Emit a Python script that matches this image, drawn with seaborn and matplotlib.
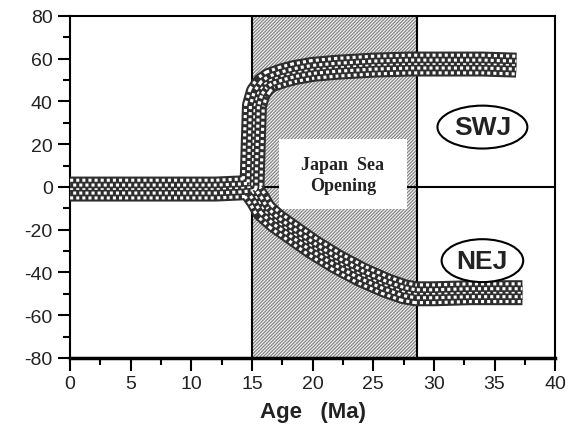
import matplotlib
matplotlib.use("Agg")
import matplotlib.pyplot as plt
import seaborn as sns
import pandas as pd
from matplotlib.ticker import MultipleLocator
from matplotlib.patches import Rectangle

# ---- data ----
swj_age = [0, 2, 4, 6, 8, 10, 12, 14, 15.0, 15.1, 15.2, 15.5, 16.0, 16.5, 17.5, 18.5, 20, 22, 25, 28, 31, 34, 36.8]
swj_dec = [-1, -1, -1, -1, -1, -1, -1, -0.5, 0, 20, 38, 44, 48, 50, 52, 53.5, 55, 56, 57, 57.5, 57.5, 57.5, 57]

nej_age = [15.0, 15.5, 16, 17, 18, 20, 22, 24, 26, 27.5, 28.5, 30, 33, 37.3]
nej_dec = [-2, -6, -11, -16, -20, -28, -35, -41, -46, -49, -50, -50, -49.5, -49.5]

opening_start, opening_end = 15.0, 28.6
x_ticks = [0, 5, 10, 15, 20, 25, 30, 35, 40]
y_ticks = [-80, -60, -40, -20, 0, 20, 40, 60, 80]

swj = pd.DataFrame({"Age": swj_age, "Dec": swj_dec})
nej = pd.DataFrame({"Age": nej_age, "Dec": nej_dec})

sns.set_theme(style="white")
plt.rcParams['font.family'] = ['Liberation Sans', 'DejaVu Sans']
plt.rcParams['axes.unicode_minus'] = False
plt.rcParams['lines.scale_dashes'] = False
plt.rcParams['hatch.linewidth'] = 0.9

fig = plt.figure(figsize=(5.7, 4.35), dpi=100)
ax = fig.add_axes([0.123, 0.175, 0.851, 0.786])

# opening period shading
ax.axvspan(opening_start, opening_end, facecolor="#f6f6f6", edgecolor="#858585",
           hatch="//////////", linewidth=0, zorder=0)
for xv in (opening_start, opening_end):
    ax.axvline(xv, color="black", lw=1.5, zorder=1)
ax.axhline(0, color="black", lw=1.5, zorder=1)

# white label box inside the shaded interval
ax.add_patch(Rectangle((17.2, -10.5), 10.6, 33, facecolor="white", edgecolor="none", zorder=2))

# curves as thick checkered bands
dark = "#2e2e2e"
layers = [
    (dark, 18, "-"),
    ("white", 15, (0, (2.2, 2.2))),
    (dark, 10.5, "-"),
    ("white", 8, (2.2, (2.2, 2.2))),
    (dark, 3.5, "-"),
    ("white", 1.2, (0, (2.2, 2.2))),
]
for df in (swj, nej):
    for i, (c, w, ls) in enumerate(layers):
        sns.lineplot(data=df, x="Age", y="Dec", ax=ax, sort=False, estimator=None,
                     color=c, lw=w, linestyle=ls, solid_capstyle="butt",
                     dash_capstyle="butt", zorder=3 + i * 0.1)

ax.text(22.5, 5.5, "Japan  Sea\nOpening", ha="center", va="center",
        family=["Liberation Serif", "DejaVu Serif"], fontweight="bold", fontsize=13,
        linespacing=1.35, color="#222222", zorder=6)

for label, yy in (("SWJ", 28), ("NEJ", -34.5)):
    ax.text(34.0, yy, label, ha="center", va="center", fontsize=19, fontweight="bold",
            color="#222222",
            bbox=dict(boxstyle="ellipse,pad=0.12", facecolor="white",
                      edgecolor="black", lw=1.5), zorder=6)

ax.set_xlim(0, 40)
ax.set_ylim(-80, 80)
ax.set_xticks(x_ticks)
ax.set_yticks(y_ticks)
ax.xaxis.set_minor_locator(MultipleLocator(2.5))
ax.yaxis.set_minor_locator(MultipleLocator(10))
ax.tick_params(axis="both", which="major", direction="out", length=9, width=1.5,
               labelsize=14, color="black", labelcolor="#222222",
               bottom=True, left=True)
ax.tick_params(axis="both", which="minor", direction="out", length=5, width=1.5,
               bottom=True, left=True, color="black")
ax.set_xlabel("Age   (Ma)", fontsize=16, fontweight="bold", labelpad=6, color="#222222")
ax.set_ylabel("")
for sp in ax.spines.values():
    sp.set_visible(True)
    sp.set_color("black")
    sp.set_linewidth(1.5)
ax.spines["bottom"].set_linewidth(2.5)
ax.set_facecolor("white")

fig.savefig("out.png", dpi=100, facecolor="white")
